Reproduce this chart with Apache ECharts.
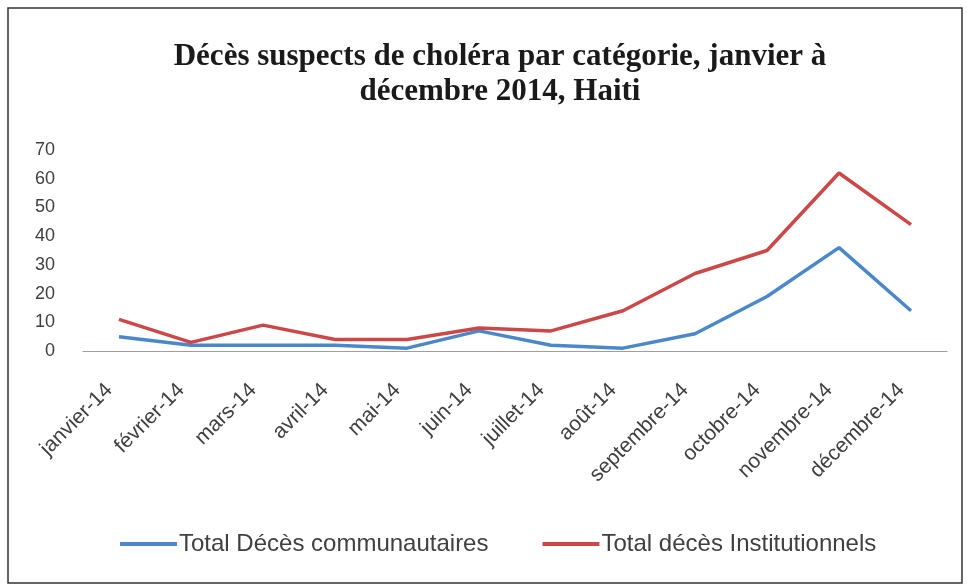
<!DOCTYPE html>
<html>
<head>
<meta charset="utf-8">
<script src="https://cdn.jsdelivr.net/npm/echarts@6/dist/echarts.min.js"></script>
<style>
  html, body { margin: 0; padding: 0; background: #fff; }
  #main { width: 967px; height: 588px; }
</style>
</head>
<body>
<div id="main"></div>
<script>
// données
const months = ['janvier-14', 'février-14', 'mars-14', 'avril-14', 'mai-14', 'juin-14',
  'juillet-14', 'août-14', 'septembre-14', 'octobre-14', 'novembre-14', 'décembre-14']
const communautaires = [5, 2, 2, 2, 1, 7, 2, 1, 6, 19, 36, 14]
const institutionnels = [11, 3, 9, 4, 4, 8, 7, 14, 27, 35, 62, 44]
const yTicks = [0, 10, 20, 30, 40, 50, 60, 70]

const chart = echarts.init(document.getElementById('main'))
chart.setOption({
  backgroundColor: '#fff',
  animation: false,
  title: {
    text: 'Décès suspects de choléra par catégorie, janvier à\ndécembre 2014, Haiti',
    left: 495,
    top: 34,
    textAlign: 'center',
    textStyle: {
      fontFamily: 'Liberation Serif',
      fontWeight: 'bold',
      fontSize: 31,
      lineHeight: 35,
      color: '#1a1a1a'
    }
  },
  graphic: [{
    type: 'rect',
    shape: { x: 8, y: 8, width: 954, height: 575 },
    style: { fill: 'none', stroke: '#333', lineWidth: 1.5 }
  }],
  legend: {
    top: 527,
    left: 115,
    itemWidth: 57,
    itemHeight: 4,
    itemGap: 54,
    icon: 'rect',
    textStyle: { fontFamily: 'Liberation Sans', fontSize: 24, color: '#404040', padding: [0, 0, 0, -3] },
    data: ['Total Décès communautaires', 'Total décès Institutionnels']
  },
  grid: { left: 83, right: 20, top: 150, bottom: 237 },
  xAxis: {
    type: 'category',
    data: months,
    axisLine: { lineStyle: { color: '#a89a9a', width: 1.2 } },
    axisTick: { show: false },
    axisLabel: {
      rotate: 45,
      margin: 26,
      interval: 0,
      padding: [0, 14, 0, 0],
      fontFamily: 'Liberation Sans',
      fontSize: 21,
      color: '#404040'
    }
  },
  yAxis: {
    type: 'value',
    min: yTicks[0],
    max: yTicks[yTicks.length - 1],
    interval: 10,
    splitLine: { show: false },
    axisLine: { show: false },
    axisTick: { show: false },
    axisLabel: {
      margin: 28,
      fontFamily: 'Liberation Sans',
      fontSize: 18,
      color: '#404040'
    }
  },
  series: [
    {
      name: 'Total Décès communautaires',
      type: 'line',
      data: communautaires,
      showSymbol: false,
      lineStyle: { color: '#4a88c9', width: 3.5 },
      itemStyle: { color: '#4a88c9' }
    },
    {
      name: 'Total décès Institutionnels',
      type: 'line',
      data: institutionnels,
      showSymbol: false,
      lineStyle: { color: '#cc4848', width: 3.5 },
      itemStyle: { color: '#cc4848' }
    }
  ]
})
</script>
</body>
</html>
